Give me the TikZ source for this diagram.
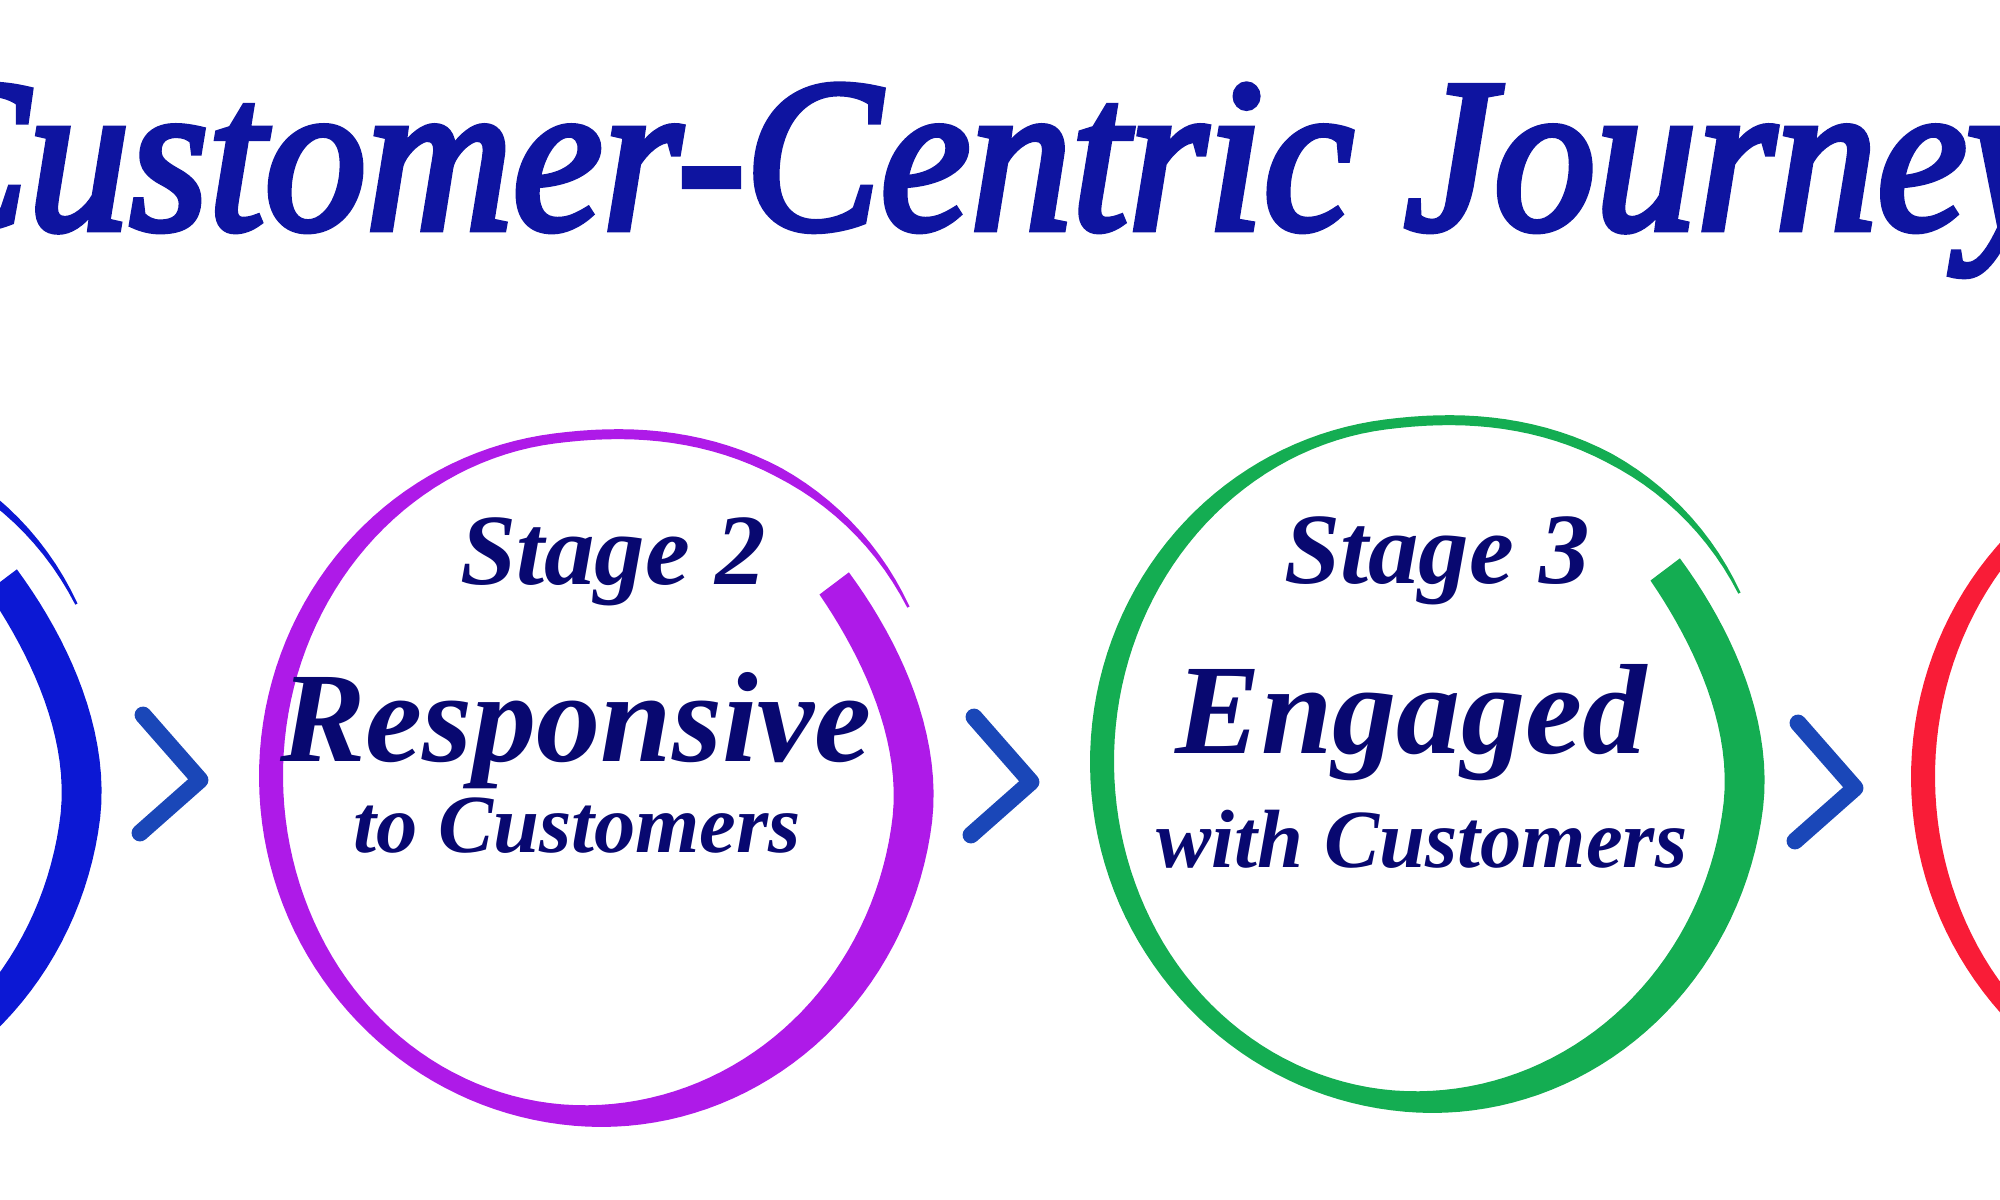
\documentclass[tikz,border=0pt]{standalone}
\usepackage{fontspec}
\setmainfont{Liberation Serif}
\newfontfamily\titlefont{Liberation Serif}[FakeBold=3, FakeStretch=0.93]
\usepackage{tikz}
\usetikzlibrary{positioning, calc}
\definecolor{ringblue}{RGB}{12, 24, 212}
\definecolor{ringpurple}{RGB}{174, 26, 232}
\definecolor{ringgreen}{RGB}{20, 173, 82}
\definecolor{ringred}{RGB}{249, 28, 55}
\definecolor{chevblue}{RGB}{26, 71, 184}
\definecolor{titleblue}{RGB}{14, 20, 160}
\definecolor{stagenavy}{RGB}{8, 8, 112}

% brush stroke: thick start at upper right, runs clockwise and thins out
\tikzset{declare function={
  bump(\x,\a)=max(0,1-(\x/\a)^2)^2;
  ringoff(\t)=-20*bump(\t,45)+32*bump(370-\t,70);
  ringwid(\t)=(10+30*bump(\t-35,150)+14*bump(\t-215,85))*min(1,(370-\t)/40+0.25);
}}
\newcommand{\brushring}[2]{%
  \fill[#2, shift={#1}]
    plot[domain=0:370, samples=160, variable=\t]
      ({(322+ringoff(\t)+ringwid(\t)/2)*cos(\t-37)}, {(340+ringoff(\t)+ringwid(\t)/2)*sin(\t-37)})
    -- plot[domain=370:0, samples=160, variable=\t]
      ({(322+ringoff(\t)-ringwid(\t)/2)*cos(\t-37)}, {(340+ringoff(\t)-ringwid(\t)/2)*sin(\t-37)})
    -- cycle;}

\begin{document}
\begin{tikzpicture}[
    x=0.01cm, y=-0.01cm,
    title/.style={anchor=base, inner sep=0pt, text=titleblue, font=\titlefont\fontsize{62pt}{64pt}\selectfont\itshape},
    stage/.style={anchor=base, inner sep=0pt, text=stagenavy, font=\fontsize{28.7pt}{30pt}\selectfont\bfseries\itshape},
    headword/.style={anchor=base, inner sep=0pt, text=stagenavy, font=\fontsize{36.5pt}{40pt}\selectfont\bfseries\itshape},
    subline/.style={anchor=base, inner sep=0pt, text=stagenavy, font=\fontsize{23.5pt}{26pt}\selectfont\bfseries\itshape},
    chevron/.style={draw=chevblue, line width=4.8pt, line cap=round, line join=round}
]
\useasboundingbox (0,0) rectangle (2000,1200);
\clip (0,0) rectangle (2000,1200);

\coordinate (c1) at (-239,773);
\coordinate (c2) at (593,776);
\coordinate (c3) at (1424,762);
\coordinate (c4) at (2245,777);

\node[title] (title) at (975,229) {Customer-Centric Journey};

\brushring{(c1)}{ringblue}
\brushring{(c2)}{ringpurple}
\brushring{(c3)}{ringgreen}
\brushring{(c4)}{ringred}

\node[stage] (stage2) at (613,584) {Stage 2};
\node[headword] (resp) at (576,761) {Responsive};
\node[subline] (respsub) at (577,852) {to Customers};

\node[stage] (stage3) at (1437,583) {Stage 3};
\node[headword] (engaged) at (1411,753) {Engaged};
\node[subline] (engagedsub) at (1422,867) {with Customers};

\foreach \tx/\ty in {200/780, 1031/782, 1855/788}
  \draw[chevron] (\tx-57,\ty-65) -- (\tx,\ty) -- (\tx-60,\ty+53);

\end{tikzpicture}
\end{document}
